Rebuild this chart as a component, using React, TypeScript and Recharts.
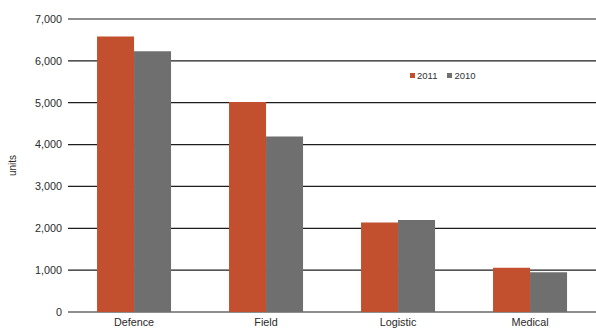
import React from "react";
import {
  BarChart,
  Bar,
  XAxis,
  YAxis,
  CartesianGrid,
  Legend,
} from "recharts";

const categories = ["Defence", "Field", "Logistic", "Medical"];
const values2011 = [6580, 5020, 2140, 1060];
const values2010 = [6230, 4190, 2200, 950];
const yTicks = [0, 1000, 2000, 3000, 4000, 5000, 6000, 7000];

const COLOR_2011 = "#c24f2d";
const COLOR_2010 = "#6f6f6f";
const FONT = "'Liberation Sans', Arial, sans-serif";

const data = categories.map((name, i) => ({
  name,
  y2011: values2011[i],
  y2010: values2010[i],
}));

const LegendContent = () => (
  <div style={{ display: "flex", gap: 10, fontFamily: FONT, fontSize: 9.5, color: "#333" }}>
    {[
      { label: "2011", color: COLOR_2011 },
      { label: "2010", color: COLOR_2010 },
    ].map((item) => (
      <span key={item.label} style={{ display: "flex", alignItems: "center" }}>
        <span
          style={{
            display: "inline-block",
            width: 5,
            height: 5,
            background: item.color,
            marginRight: 2,
          }}
        />
        {item.label}
      </span>
    ))}
  </div>
);

export default function App() {
  return (
    <div style={{ position: "absolute", left: 0, top: 0, width: 596, height: 328, background: "#fff" }}>
      <BarChart
        width={596}
        height={328}
        data={data}
        margin={{ top: 19, right: 0, left: 0, bottom: -12 }}
        barCategoryGap="22%"
        barGap={0}
      >
        <CartesianGrid vertical={false} stroke="#1e1e1e" strokeWidth={1.2} />
        <XAxis
          dataKey="name"
          height={17}
          tickLine={false}
          axisLine={false}
          tickSize={0}
          tickMargin={6}
          interval={0}
          tick={{ fontSize: 10.8, fill: "#2a2a2a", fontFamily: FONT }}
        />
        <YAxis
          width={68}
          domain={[0, 7000]}
          ticks={yTicks}
          tickLine={false}
          axisLine={false}
          tickSize={0}
          tickMargin={6}
          tickFormatter={(v: number) => v.toLocaleString("en-US")}
          tick={{ fontSize: 10.8, fill: "#2a2a2a", fontFamily: FONT }}
          label={{
            value: "units",
            angle: -90,
            position: "insideLeft",
            offset: 12,
            style: { fontSize: 10, fill: "#2a2a2a", fontFamily: FONT, textAnchor: "middle" },
          }}
        />
        <Legend
          content={<LegendContent />}
          wrapperStyle={{ position: "absolute", left: 410, top: 70, width: "auto" }}
        />
        <Bar dataKey="y2011" name="2011" fill={COLOR_2011} isAnimationActive={false} />
        <Bar dataKey="y2010" name="2010" fill={COLOR_2010} isAnimationActive={false} />
      </BarChart>
    </div>
  );
}
